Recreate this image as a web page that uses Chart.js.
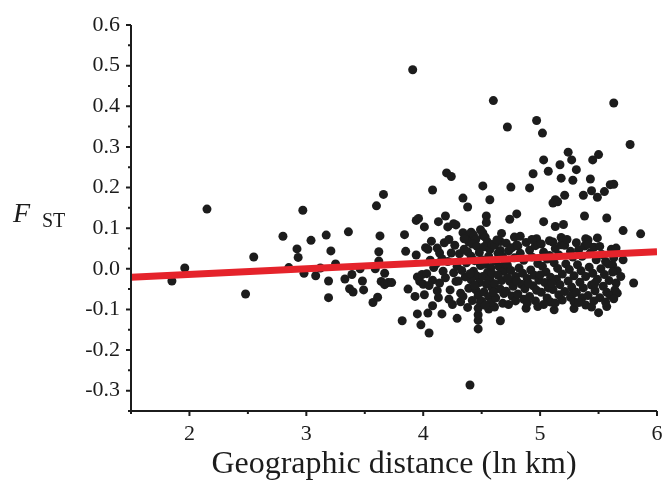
<!DOCTYPE html>
<html>
<head>
<meta charset="utf-8">
<script src="https://cdn.jsdelivr.net/npm/chart.js@4.4.1/dist/chart.umd.min.js"></script>
<style>
  html, body { margin: 0; padding: 0; background: #fff; }
  #wrap { width: 667px; height: 485px; }
</style>
</head>
<body>
<div id="wrap"><canvas id="fst_chart" width="667" height="485"></canvas></div>
<script>
// axis ticks
const xTicks = [2, 3, 4, 5, 6]
const xMinorTicks = [1.5, 2.5, 3.5, 4.5, 5.5]
const yTicks = [-0.3, -0.2, -0.1, 0.0, 0.1, 0.2, 0.3, 0.4, 0.5, 0.6]
const yMinorTicks = [-0.35, -0.25, -0.15, -0.05, 0.05, 0.15, 0.25, 0.35, 0.45, 0.55]

// regression line (ln km -> Fst)
const fitX = [1.5, 6]
const fitY = [-0.021, 0.042]

// pairwise points, [ln km, Fst]
const sparsePoints = [
  [1.85,-0.030],[1.96,0.002],[2.15,0.147],[2.48,-0.062],[2.55,0.029],[2.80,0.080],[2.85,0.003],
  [2.92,0.049],[2.93,0.028],[2.97,0.144],[2.98,-0.011],[3.04,0.070],[3.08,-0.017],[3.12,0.002],
  [3.17,0.083],[3.19,-0.030],[3.19,-0.071],[3.21,0.044],[3.25,0.012],[3.33,-0.025],[3.36,0.091],
  [3.37,-0.049],[3.39,-0.014],[3.40,-0.057],[3.46,0.000],[3.48,-0.030],[3.49,-0.052],[3.57,-0.083],
  [3.59,0.000],[3.60,0.155],[3.61,-0.070],[3.62,0.042],[3.62,0.019],[3.63,0.081],[3.64,-0.031],
  [3.66,0.183],[3.67,-0.011],[3.67,-0.039],[3.70,-0.034],[3.73,-0.034],[3.82,-0.128],[3.84,0.084],
  [3.85,0.043],[3.87,-0.050]
]
const highPoints = [
  [3.91,0.490],[4.60,0.414],[5.63,0.408],[4.72,0.349],[4.97,0.365],[5.02,0.334],[5.77,0.306],
  [5.24,0.287],[5.27,0.268],[5.03,0.268],[5.17,0.256],[5.07,0.240],[5.31,0.244],[5.50,0.281],
  [5.45,0.268],[4.94,0.234],[5.18,0.223],[5.28,0.218],[5.43,0.221],[4.20,0.236],[4.24,0.227],
  [4.51,0.204],[4.75,0.201],[4.91,0.199],[4.08,0.194],[5.21,0.181],[5.37,0.181],[5.44,0.192],
  [5.49,0.176],[5.55,0.190],[5.60,0.207],[5.63,0.208],[4.34,0.174],[4.57,0.170],[5.13,0.170]
]
const upperPoints = [
  [4.38,0.152],[4.19,0.130],[4.13,0.116],[3.94,0.119],[3.96,0.124],[4.01,0.103],[4.21,0.103],
  [4.26,0.111],[4.28,0.108],[4.54,0.130],[4.54,0.114],[4.34,0.089],[4.37,0.079],[4.80,0.135],
  [4.74,0.122],[5.03,0.116],[5.13,0.104],[5.20,0.109],[5.38,0.130],[5.57,0.125],[5.71,0.094],
  [5.86,0.086],[5.11,0.162],[5.15,0.165],[4.41,0.090],[4.49,0.096],[4.51,0.082],[4.97,0.074],
  [5.41,0.071],[5.49,0.076],[4.66,0.067],[4.80,0.059]
]
const lowPoints = [
  [4.40,-0.286],[3.95,-0.111],[3.98,-0.138],[4.05,-0.158],[4.04,-0.109],[4.08,-0.091],[4.16,-0.111],
  [4.29,-0.122],[4.47,-0.148],[4.47,-0.127],[4.47,-0.113],[4.47,-0.097],[4.56,-0.099],[4.61,-0.094],
  [4.66,-0.128],[4.88,-0.097],[4.98,-0.093],[5.12,-0.101],[5.29,-0.098],[5.39,-0.089],[5.44,-0.094],
  [5.50,-0.108],[5.57,-0.093]
]
const clusterPoints = [
  [3.95,-0.020],[3.97,-0.031],[3.99,-0.014],[4.00,-0.038],[3.93,-0.068],[3.94,0.034],
  [4.02,0.052],[4.04,0.048],[4.06,0.021],[4.03,-0.012],[4.08,-0.028],[4.05,-0.041],[4.01,-0.064],[4.09,0.003],[4.07,0.068],
  [4.12,0.051],[4.14,0.039],[4.14,-0.035],[4.11,0.012],[4.17,-0.006],[4.18,0.064],[4.13,-0.071],[4.19,-0.022],[4.16,0.025],[4.12,-0.054],
  [4.24,0.039],[4.23,-0.052],[4.22,-0.075],[4.21,0.018],[4.26,-0.010],[4.27,0.058],[4.28,-0.031],[4.25,-0.088],[4.29,0.006],[4.22,0.072],
  [4.31,0.037],[4.35,0.048],[4.38,0.042],[4.39,-0.048],[4.32,-0.060],[4.34,-0.068],[4.32,-0.081],[4.36,-0.020],[4.33,-0.004],
  [4.37,0.015],[4.39,0.066],[4.35,0.074],[4.30,-0.030],[4.38,-0.095],
  [4.43,0.083],[4.45,0.072],[4.42,0.061],[4.46,0.055],[4.48,0.040],[4.41,0.031],[4.44,0.020],[4.49,0.008],[4.43,-0.006],
  [4.46,-0.018],[4.41,-0.027],[4.48,-0.034],[4.45,-0.052],[4.47,-0.066],[4.42,-0.078],[4.49,-0.083],[4.44,-0.041],[4.40,-0.012],
  [4.51,0.088],[4.53,0.078],[4.55,0.066],[4.52,0.054],[4.57,0.047],[4.59,0.060],[4.56,0.031],[4.50,0.022],[4.53,0.011],
  [4.58,0.003],[4.55,-0.009],[4.51,-0.019],[4.57,-0.026],[4.54,-0.038],[4.59,-0.047],[4.52,-0.057],[4.56,-0.069],[4.50,-0.080],
  [4.58,-0.083],[4.53,-0.090],[4.59,-0.012],
  [4.61,0.058],[4.63,0.071],[4.66,0.045],[4.68,0.030],[4.62,0.019],[4.65,0.005],[4.69,-0.006],[4.64,-0.016],[4.67,-0.029],
  [4.61,-0.037],[4.66,-0.050],[4.69,-0.061],[4.62,-0.072],[4.68,-0.085],[4.64,0.038],[4.67,0.087],[4.60,-0.058],[4.70,0.012],
  [4.71,0.063],[4.73,0.044],[4.76,0.052],[4.78,0.027],[4.72,0.009],[4.75,-0.004],[4.79,-0.019],[4.74,-0.031],[4.77,-0.043],
  [4.71,-0.055],[4.76,-0.067],[4.79,-0.079],[4.73,-0.088],[4.78,0.078],[4.72,-0.022],
  [4.81,0.056],[4.83,0.038],[4.86,0.021],[4.88,0.065],[4.82,0.002],[4.85,-0.011],[4.89,-0.024],[4.84,-0.038],[4.87,-0.049],
  [4.81,-0.062],[4.86,-0.075],[4.89,-0.084],[4.83,0.080],[4.80,-0.030],
  [4.91,0.046],[4.93,0.029],[4.96,0.057],[4.98,0.013],[4.92,-0.003],[4.95,-0.016],[4.99,-0.028],[4.94,-0.042],[4.97,-0.053],
  [4.91,-0.068],[4.96,-0.079],[4.93,0.072],[4.90,-0.036],
  [5.01,0.061],[5.03,0.041],[5.06,0.024],[5.08,0.069],[5.02,0.006],[5.05,-0.008],[5.09,-0.021],[5.04,-0.034],[5.07,-0.047],
  [5.01,-0.058],[5.06,-0.072],[5.09,-0.082],[5.03,-0.088],[5.08,0.033],[5.00,-0.015],
  [5.11,0.066],[5.13,0.050],[5.16,0.034],[5.18,0.059],[5.12,0.015],[5.15,0.001],[5.19,-0.013],[5.14,-0.026],[5.17,-0.039],
  [5.11,-0.051],[5.16,-0.064],[5.19,-0.077],[5.13,-0.084],[5.18,0.077],[5.10,-0.036],
  [5.21,0.058],[5.23,0.072],[5.26,0.043],[5.28,0.029],[5.22,0.012],[5.25,-0.002],[5.29,-0.017],[5.24,-0.030],[5.27,-0.045],
  [5.21,-0.056],[5.26,-0.070],[5.29,-0.081],[5.28,-0.061],
  [5.31,0.064],[5.33,0.047],[5.36,0.031],[5.38,0.056],[5.32,0.010],[5.35,-0.005],[5.39,-0.019],[5.34,-0.033],[5.37,-0.047],
  [5.31,-0.058],[5.36,-0.071],[5.39,0.074],[5.33,-0.083],
  [5.41,0.060],[5.43,0.039],[5.46,0.053],[5.48,0.022],[5.42,0.004],[5.45,-0.011],[5.49,-0.026],[5.44,-0.040],[5.47,-0.054],
  [5.41,-0.066],[5.46,-0.079],[5.47,-0.035],
  [5.51,0.055],[5.53,0.035],[5.56,0.018],[5.58,0.012],[5.52,0.000],[5.55,-0.014],[5.59,-0.029],[5.54,-0.043],[5.57,-0.058],
  [5.51,-0.071],[5.56,-0.082],[5.62,0.009],
  [5.61,0.048],[5.63,0.027],[5.66,-0.005],[5.62,-0.008],[5.65,-0.035],[5.64,-0.052],[5.69,-0.019],[5.60,-0.066],
  [5.65,0.051],[5.71,0.022],[5.80,-0.035],[5.66,-0.060],[5.63,-0.074]
]

const toXY = (list) => list.map(([x, y]) => ({x, y}))
const scatterData = [...sparsePoints, ...highPoints, ...upperPoints, ...lowPoints, ...clusterPoints]

const ink = '#1c1c1c'
const serif = '"Liberation Serif", "Times New Roman", serif'

const axisFrame = {
  id: 'axisFrame',
  afterDraw(chart) {
    const {ctx, chartArea: {left, right, top, bottom}, scales: {x, y}} = chart
    ctx.save()
    ctx.strokeStyle = ink
    ctx.lineWidth = 2
    ctx.beginPath()
    ctx.moveTo(left, top)
    ctx.lineTo(left, bottom)
    ctx.lineTo(right, bottom)
    yTicks.forEach((v) => {
      const py = y.getPixelForValue(v)
      ctx.moveTo(left, py); ctx.lineTo(left - 5, py)
    })
    yMinorTicks.forEach((v) => {
      const py = y.getPixelForValue(v)
      ctx.moveTo(left, py); ctx.lineTo(left - 3, py)
    })
    xTicks.forEach((v) => {
      const px = x.getPixelForValue(v)
      ctx.moveTo(px, bottom); ctx.lineTo(px, bottom + 5)
    })
    xMinorTicks.forEach((v) => {
      const px = x.getPixelForValue(v)
      ctx.moveTo(px, bottom); ctx.lineTo(px, bottom + 3)
    })
    ctx.stroke()

    // y axis title: F with ST subscript
    ctx.fillStyle = ink
    ctx.textBaseline = 'alphabetic'
    ctx.textAlign = 'left'
    ctx.font = 'italic 28px ' + serif
    ctx.fillText('F', 13, 222)
    ctx.font = '20px ' + serif
    ctx.fillText('ST', 42, 227)
    ctx.restore()
  }
}

const ctxCanvas = document.getElementById('fst_chart').getContext('2d')
const fstChart = new Chart(ctxCanvas, {
  data: {
    datasets: [
      {
        type: 'line',
        data: toXY(fitX.map((x, i) => [x, fitY[i]])),
        borderColor: '#e5232b',
        borderWidth: 7,
        pointRadius: 0,
        fill: false,
        order: 0
      },
      {
        type: 'scatter',
        data: toXY(scatterData),
        backgroundColor: ink,
        borderColor: ink,
        borderWidth: 0,
        pointRadius: 4.5,
        order: 1
      }
    ]
  },
  options: {
    responsive: false,
    animation: false,
    layout: {padding: {top: 25, right: 10, left: 0, bottom: 0}},
    plugins: {legend: {display: false}, tooltip: {enabled: false}},
    scales: {
      x: {
        type: 'linear',
        min: 1.5,
        max: 6,
        afterBuildTicks: (s) => { s.ticks = xTicks.map((v) => ({value: v})) },
        afterFit: (s) => { s.height = 74; s.paddingLeft = 0; s.paddingRight = 0 },
        grid: {display: false, drawTicks: false},
        border: {display: false},
        ticks: {
          color: ink,
          font: {family: serif, size: 22},
          padding: 10,
          maxRotation: 0,
          autoSkip: false,
          callback: (v) => String(v)
        },
        title: {
          display: true,
          text: 'Geographic distance (ln km)',
          color: ink,
          font: {family: serif, size: 32},
          padding: {top: 0, bottom: 1}
        }
      },
      y: {
        type: 'linear',
        min: -0.35,
        max: 0.6,
        afterBuildTicks: (s) => { s.ticks = yTicks.map((v) => ({value: v})) },
        afterFit: (s) => { s.width = 131; s.paddingTop = 0; s.paddingBottom = 0 },
        grid: {display: false, drawTicks: false},
        border: {display: false},
        ticks: {
          color: ink,
          font: {family: serif, size: 22},
          padding: 11,
          autoSkip: false,
          callback: (v) => v.toFixed(1)
        }
      }
    }
  },
  plugins: [axisFrame]
})
</script>
</body>
</html>
